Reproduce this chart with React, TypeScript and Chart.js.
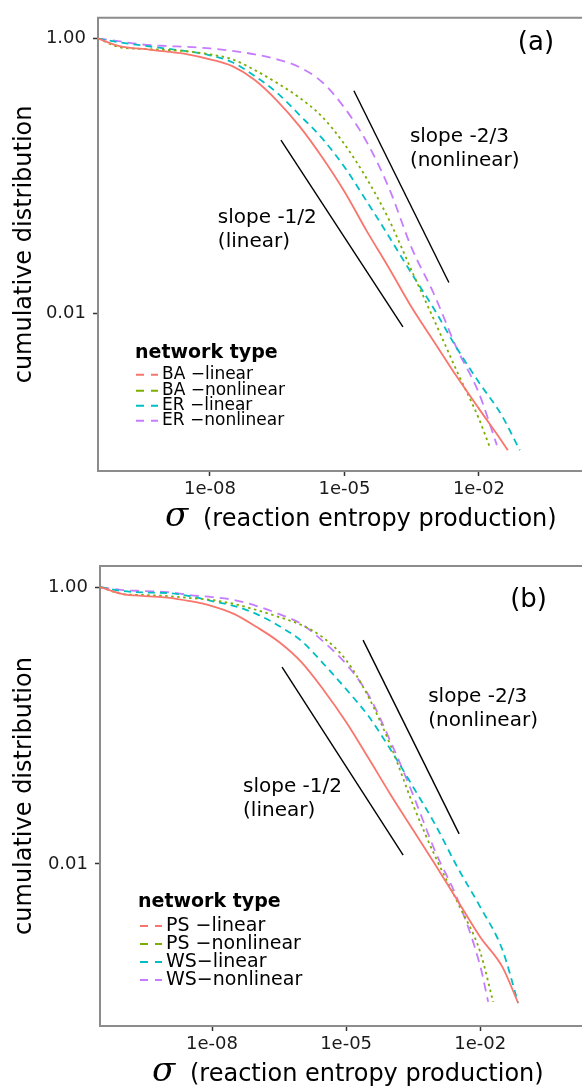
import React, { useEffect, useRef } from "react";
import { Chart, registerables } from "chart.js";

Chart.register(...registerables);

// ---------------- data : panel (a) ----------------
const aBaLinearSigma = [3.16e-11, 1e-10, 3.16e-10, 1e-9, 3.16e-9, 1e-8, 3.16e-8, 1e-7, 3.16e-7, 1e-6, 3.16e-6, 1e-5, 3.16e-5, 1e-4, 3.16e-4, 1e-3, 3.16e-3, 1e-2, 3.16e-2, 4.43e-2];
const aBaLinearCdf = [1.0, 0.876, 0.84, 0.806, 0.767, 0.706, 0.629, 0.499, 0.352, 0.229, 0.137, 0.0767, 0.0395, 0.0211, 0.011, 0.00618, 0.00347, 0.00201, 0.00118, 0.001];

const aBaNonlinearSigma = [3.16e-11, 1e-10, 3.16e-10, 1e-9, 3.16e-9, 1e-8, 3.16e-8, 1e-7, 3.16e-7, 1e-6, 3.16e-6, 1e-5, 3.16e-5, 1e-4, 3.16e-4, 1e-3, 3.16e-3, 1e-2, 1.76e-2];
const aBaNonlinearCdf = [1.0, 0.862, 0.84, 0.827, 0.806, 0.767, 0.706, 0.589, 0.474, 0.37, 0.27, 0.17, 0.0951, 0.0475, 0.0204, 0.00891, 0.00383, 0.0017, 0.00105];

const aErLinearSigma = [3.16e-11, 1e-10, 3.16e-10, 1e-9, 3.16e-9, 1e-8, 3.16e-8, 1e-7, 3.16e-7, 1e-6, 3.16e-6, 1e-5, 3.16e-5, 1e-4, 3.16e-4, 1e-3, 3.16e-3, 1e-2, 3.16e-2, 8.2e-2];
const aErLinearCdf = [1.0, 0.936, 0.89, 0.847, 0.806, 0.755, 0.672, 0.533, 0.402, 0.277, 0.188, 0.116, 0.065, 0.0358, 0.0194, 0.0107, 0.0056, 0.00313, 0.00182, 0.001];

const aErNonlinearSigma = [3.16e-11, 1e-10, 3.16e-10, 1e-9, 3.16e-9, 1e-8, 3.16e-8, 1e-7, 3.16e-7, 1e-6, 3.16e-6, 1e-5, 3.16e-5, 1e-4, 3.16e-4, 1e-3, 3.16e-3, 1e-2, 2.52e-2];
const aErNonlinearCdf = [1.0, 0.952, 0.905, 0.883, 0.869, 0.847, 0.813, 0.767, 0.706, 0.618, 0.482, 0.313, 0.176, 0.0806, 0.0298, 0.0137, 0.0056, 0.00261, 0.00109];

const aSlopeLinearSigma = [3.84e-7, 2.02e-4];
const aSlopeLinearCdf = [0.1816, 0.00792];
const aSlopeNonlinearSigma = [1.63e-5, 2.14e-3];
const aSlopeNonlinearCdf = [0.416, 0.0167];

// ---------------- data : panel (b) ----------------
const bPsLinearSigma = [3.16e-11, 1e-10, 3.16e-10, 1e-9, 3.16e-9, 1e-8, 3.16e-8, 1e-7, 3.16e-7, 1e-6, 3.16e-6, 1e-5, 3.16e-5, 1e-4, 3.16e-4, 1e-3, 3.16e-3, 1e-2, 3.16e-2, 7.08e-2];
const bPsLinearCdf = [1.0, 0.89, 0.861, 0.84, 0.792, 0.729, 0.638, 0.514, 0.401, 0.287, 0.18, 0.106, 0.0582, 0.0315, 0.0176, 0.00984, 0.00541, 0.00297, 0.0018, 0.00099];

const bPsNonlinearSigma = [3.16e-11, 1e-10, 3.16e-10, 1e-9, 3.16e-9, 1e-8, 3.16e-8, 1e-7, 3.16e-7, 1e-6, 3.16e-6, 1e-5, 3.16e-5, 1e-4, 3.16e-4, 1e-3, 3.16e-3, 1e-2, 1.95e-2];
const bPsNonlinearCdf = [1.0, 0.89, 0.876, 0.861, 0.833, 0.806, 0.754, 0.682, 0.607, 0.532, 0.428, 0.297, 0.161, 0.0711, 0.0267, 0.0112, 0.00523, 0.00232, 0.00101];

const bWsLinearSigma = [3.16e-11, 1e-10, 3.16e-10, 1e-9, 3.16e-9, 1e-8, 3.16e-8, 1e-7, 3.16e-7, 1e-6, 3.16e-6, 1e-5, 3.16e-5, 1e-4, 3.16e-4, 1e-3, 3.16e-3, 1e-2, 3.16e-2, 7.08e-2];
const bWsLinearCdf = [1.0, 0.936, 0.913, 0.905, 0.861, 0.792, 0.729, 0.638, 0.523, 0.408, 0.278, 0.183, 0.117, 0.0665, 0.036, 0.0191, 0.00936, 0.0049, 0.00239, 0.00099];

const bWsNonlinearSigma = [3.16e-11, 1e-10, 3.16e-10, 1e-9, 3.16e-9, 1e-8, 3.16e-8, 1e-7, 3.16e-7, 1e-6, 3.16e-6, 1e-5, 3.16e-5, 1e-4, 3.16e-4, 1e-3, 3.16e-3, 1e-2, 1.51e-2];
const bWsNonlinearCdf = [1.0, 0.951, 0.936, 0.92, 0.876, 0.847, 0.806, 0.729, 0.638, 0.541, 0.401, 0.278, 0.166, 0.076, 0.0315, 0.0122, 0.0055, 0.00184, 0.00101];

const bSlopeLinearSigma = [3.69e-7, 1.89e-4];
const bSlopeLinearCdf = [0.264, 0.0116];
const bSlopeNonlinearSigma = [2.4e-5, 3.38e-3];
const bSlopeNonlinearCdf = [0.414, 0.0165];

// ---------------- labels / ticks ----------------
const aSeriesLabels = ["BA \u2212linear", "BA \u2212nonlinear", "ER \u2212linear", "ER \u2212nonlinear"];
const bSeriesLabels = ["PS \u2212linear", "PS \u2212nonlinear", "WS\u2212linear", "WS\u2212nonlinear"];
const xTickValues = [1e-8, 1e-5, 1e-2];
const xTickLabels = ["1e-08", "1e-05", "1e-02"];
const yTickValues = [0.01, 1];
const yTickLabels = ["0.01", "1.00"];
const legendTitle = "network type";
const yTitle = "cumulative distribution";
const xTitleSymbol = "\u03C3";
const xTitleRest = "(reaction entropy production)";
const slopeLinearText = ["slope -1/2", "(linear)"];
const slopeNonlinearText = ["slope -2/3", "(nonlinear)"];

// ---------------- styles ----------------
const COLORS = ["#F8766D", "#7CAE00", "#00BFC4", "#C77CFF"];
const DASHES = [[], [2.5, 3.5], [7, 5], [9, 6]];
const FONT = '"DejaVu Sans", Verdana, sans-serif';
const W = 582;
const H = 543;

type Panel = {
  tag: string;
  series: { sigma: number[]; cdf: number[] }[];
  labels: string[];
  slopeLin: { sigma: number[]; cdf: number[] };
  slopeNon: { sigma: number[]; cdf: number[] };
  xMin: number; xMax: number; yMin: number; yMax: number;
  padTop: number; yAxisWidth: number; xAxisHeight: number;
  linTextAt: [number, number]; nonTextAt: [number, number]; tagAt: [number, number];
  legend: { titleX: number; titleY: number; rowY: number[]; keyX: number; labelX: number; fontSize: number };
  sigmaX: number; restX: number;
};

const panels: Panel[] = [
  {
    tag: "(a)",
    series: [
      { sigma: aBaLinearSigma, cdf: aBaLinearCdf },
      { sigma: aBaNonlinearSigma, cdf: aBaNonlinearCdf },
      { sigma: aErLinearSigma, cdf: aErLinearCdf },
      { sigma: aErNonlinearSigma, cdf: aErNonlinearCdf },
    ],
    labels: aSeriesLabels,
    slopeLin: { sigma: aSlopeLinearSigma, cdf: aSlopeLinearCdf },
    slopeNon: { sigma: aSlopeNonlinearSigma, cdf: aSlopeNonlinearCdf },
    xMin: 3.18e-11, xMax: 2.0, yMin: 7.06e-4, yMax: 1.416,
    padTop: 12, yAxisWidth: 98, xAxisHeight: 72,
    linTextAt: [1.5e-8, 0.049], nonTextAt: [2.89e-4, 0.191], tagAt: [7.4e-2, 0.92],
    legend: { titleX: 37, titleY: 335, rowY: [357, 373, 388, 403], keyX: 38, labelX: 64, fontSize: 17 },
    sigmaX: 165, restX: 203,
  },
  {
    tag: "(b)",
    series: [
      { sigma: bPsLinearSigma, cdf: bPsLinearCdf },
      { sigma: bPsNonlinearSigma, cdf: bPsNonlinearCdf },
      { sigma: bWsLinearSigma, cdf: bWsLinearCdf },
      { sigma: bWsNonlinearSigma, cdf: bWsNonlinearCdf },
    ],
    labels: bSeriesLabels,
    slopeLin: { sigma: bSlopeLinearSigma, cdf: bSlopeLinearCdf },
    slopeNon: { sigma: bSlopeNonlinearSigma, cdf: bSlopeNonlinearCdf },
    xMin: 3.11e-11, xMax: 1.9, yMin: 6.76e-4, yMax: 1.419,
    padTop: 23, yAxisWidth: 100, xAxisHeight: 60,
    linTextAt: [4.94e-8, 0.036], nonTextAt: [6.86e-4, 0.161], tagAt: [4.7e-2, 0.805],
    legend: { titleX: 38, titleY: 336, rowY: [360, 378, 396, 414], keyX: 40, labelX: 66, fontSize: 19 },
    sigmaX: 152, restX: 190,
  },
];

function labelFor(values: number[], labels: string[], v: number) {
  const i = values.findIndex((t) => Math.abs(t - v) / t < 1e-6);
  return i >= 0 ? labels[i] : "";
}

function makeDecor(p: Panel) {
  return {
    id: "decor" + p.tag,
    beforeDatasetsDraw(chart: any) {
      const { ctx, chartArea: a } = chart;
      ctx.save();
      ctx.strokeStyle = "#8c8c8c";
      ctx.lineWidth = 2;
      ctx.beginPath();
      ctx.moveTo(a.left - 1, a.top);
      ctx.lineTo(a.right + 2, a.top);
      ctx.stroke();
      ctx.restore();
    },
    afterDatasetsDraw(chart: any) {
      const { ctx, chartArea: a, scales } = chart;
      const xs = scales.x;
      const ys = scales.y;
      ctx.save();
      ctx.fillStyle = "#000";
      ctx.textBaseline = "middle";
      ctx.textAlign = "left";
      // slope annotations
      ctx.font = `20px ${FONT}`;
      const drawLines = (at: [number, number], lines: string[]) => {
        const x = xs.getPixelForValue(at[0]);
        const y = ys.getPixelForValue(at[1]);
        lines.forEach((t, i) => ctx.fillText(t, x, y + i * 24));
      };
      drawLines(p.linTextAt, slopeLinearText);
      drawLines(p.nonTextAt, slopeNonlinearText);
      // panel tag
      ctx.font = `26px ${FONT}`;
      ctx.fillText(p.tag, xs.getPixelForValue(p.tagAt[0]), ys.getPixelForValue(p.tagAt[1]));
      // legend
      const L = p.legend;
      ctx.font = `bold 19px ${FONT}`;
      ctx.fillText(legendTitle, a.left + L.titleX, a.top + L.titleY);
      chart.data.datasets.forEach((ds: any, i: number) => {
        if (i >= p.labels.length) return;
        const y = a.top + L.rowY[i];
        ctx.save();
        ctx.strokeStyle = ds.borderColor;
        ctx.lineWidth = 2;
        ctx.setLineDash([8, 7]);
        ctx.beginPath();
        ctx.moveTo(a.left + L.keyX, y);
        ctx.lineTo(a.left + L.keyX + 22, y);
        ctx.stroke();
        ctx.restore();
        ctx.font = `${L.fontSize}px ${FONT}`;
        ctx.fillText(ds.label, a.left + L.labelX, y);
      });
      // x title
      const ty = a.bottom + 55;
      ctx.textBaseline = "alphabetic";
      ctx.font = `italic 34px "DejaVu Serif", serif`;
      ctx.fillText(xTitleSymbol, p.sigmaX, ty);
      ctx.font = `24px ${FONT}`;
      ctx.fillText(xTitleRest, p.restX, ty);
      ctx.restore();
    },
  };
}

function PanelChart({ p }: { p: Panel }) {
  const ref = useRef<HTMLCanvasElement | null>(null);
  useEffect(() => {
    if (!ref.current) return;
    const datasets: any[] = p.series.map((s, i) => ({
      label: p.labels[i],
      data: s.sigma.map((x, j) => ({ x, y: s.cdf[j] })),
      borderColor: COLORS[i],
      backgroundColor: COLORS[i],
      borderWidth: 1.8,
      borderDash: DASHES[i],
      pointRadius: 0,
      cubicInterpolationMode: "monotone",
      fill: false,
    }));
    [p.slopeLin, p.slopeNon].forEach((s, i) => {
      datasets.push({
        label: "slope" + i,
        data: s.sigma.map((x, j) => ({ x, y: s.cdf[j] })),
        borderColor: "#000",
        borderWidth: 1.4,
        pointRadius: 0,
        tension: 0,
        fill: false,
      });
    });
    const chart = new Chart(ref.current, {
      type: "line",
      data: { datasets },
      options: {
        animation: false,
        responsive: false,
        maintainAspectRatio: false,
        devicePixelRatio: 1,
        layout: { padding: { top: p.padTop, right: 0, left: 0, bottom: 0 } },
        plugins: { legend: { display: false }, tooltip: { enabled: false } },
        scales: {
          x: {
            type: "logarithmic",
            min: p.xMin,
            max: p.xMax,
            afterBuildTicks: (scale: any) => {
              scale.ticks = xTickValues.map((v) => ({ value: v }));
            },
            afterFit: (scale: any) => {
              scale.height = p.xAxisHeight;
            },
            grid: { drawOnChartArea: false, drawTicks: true, tickLength: 5, tickColor: "#333", tickWidth: 1.5 },
            border: { display: true, color: "#8c8c8c", width: 2 },
            ticks: {
              autoSkip: false,
              maxRotation: 0,
              padding: 3,
              color: "#1a1a1a",
              font: { family: FONT, size: 18 },
              callback: (v: any) => labelFor(xTickValues, xTickLabels, Number(v)),
            },
          },
          y: {
            type: "logarithmic",
            min: p.yMin,
            max: p.yMax,
            afterBuildTicks: (scale: any) => {
              scale.ticks = yTickValues.map((v) => ({ value: v }));
            },
            afterFit: (scale: any) => {
              scale.width = p.yAxisWidth;
            },
            grid: { drawOnChartArea: false, drawTicks: true, tickLength: 5, tickColor: "#333", tickWidth: 1.5 },
            border: { display: true, color: "#8c8c8c", width: 2 },
            ticks: {
              autoSkip: false,
              padding: 7,
              color: "#1a1a1a",
              font: { family: FONT, size: 18 },
              callback: (v: any) => labelFor(yTickValues, yTickLabels, Number(v)),
            },
            title: {
              display: true,
              text: yTitle,
              color: "#000",
              font: { family: FONT, size: 24 },
              padding: { top: 10, bottom: 0 },
            },
          },
        },
      },
      plugins: [makeDecor(p)],
    } as any);
    return () => chart.destroy();
  }, [p]);
  return <canvas ref={ref} width={W} height={H} style={{ display: "block", width: W, height: H }} />;
}

export default function App() {
  return (
    <div style={{ position: "absolute", left: 0, top: 0, width: W, height: H * 2, background: "#fff", overflow: "hidden" }}>
      {panels.map((p) => (
        <PanelChart key={p.tag} p={p} />
      ))}
    </div>
  );
}
